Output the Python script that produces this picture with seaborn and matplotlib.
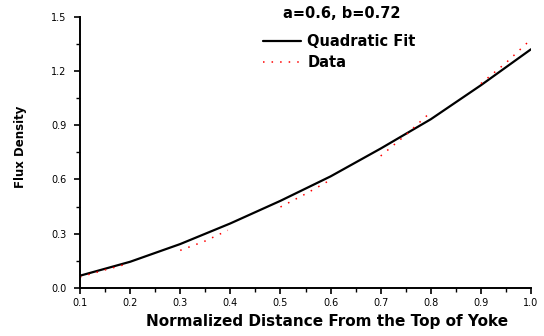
import numpy as np
import pandas as pd
import seaborn as sns
import matplotlib.pyplot as plt
from matplotlib.lines import Line2D
from matplotlib.ticker import MultipleLocator

# quadratic fit curve
fit_x = [0.1, 0.2, 0.3, 0.4, 0.5, 0.6, 0.7, 0.8, 0.9, 1.0]
fit_y = [0.068, 0.145, 0.243, 0.357, 0.482, 0.617, 0.771, 0.933, 1.121, 1.32]

# measured data, five separate segments
seg_id = [1, 1, 1, 2, 2, 2, 3, 3, 3, 4, 4, 4, 5, 5, 5]
data_x = [0.1, 0.15, 0.195, 0.3, 0.35, 0.395, 0.5, 0.55, 0.595,
          0.7, 0.75, 0.795, 0.9, 0.95, 0.995]
data_y = [0.061, 0.10, 0.134, 0.208, 0.26, 0.319, 0.448, 0.52, 0.59,
          0.73, 0.846, 0.96, 1.13, 1.245, 1.362]

fit = pd.DataFrame({"x": fit_x, "y": fit_y})
data = pd.DataFrame({"x": data_x, "y": data_y, "seg": seg_id})

sns.set_theme(style="ticks")
plt.rcParams["font.family"] = ["DejaVu Sans"]
plt.rcParams["text.color"] = "black"
plt.rcParams["axes.labelcolor"] = "black"

fig = plt.figure(figsize=(5.44, 3.36), dpi=100)
ax = fig.add_axes([80 / 544, 48 / 336, 451 / 544, 271.3 / 336])

dots = (0, (1, 4.6))
sns.lineplot(data=fit, x="x", y="y", color="black", lw=1.6, ax=ax)
sns.lineplot(data=data, x="x", y="y", units="seg", estimator=None,
             color="red", lw=1.1, linestyle=dots, ax=ax)

ax.set_xlim(0.1, 1.0)
ax.set_ylim(0.0, 1.5)
ax.xaxis.set_major_locator(MultipleLocator(0.1))
ax.xaxis.set_minor_locator(MultipleLocator(0.05))
ax.yaxis.set_major_locator(MultipleLocator(0.3))
ax.yaxis.set_minor_locator(MultipleLocator(0.15))
ax.tick_params(which="major", length=4.5, width=1.2, labelsize=7, colors="black")
ax.tick_params(which="minor", length=2.6, width=1.0, colors="black")
ax.tick_params(axis="x", which="major", pad=3)
ax.tick_params(axis="y", which="major", pad=5)
ax.xaxis.set_major_formatter(plt.FuncFormatter(lambda v, p: f"{v:.1f}"))
ax.yaxis.set_major_formatter(plt.FuncFormatter(lambda v, p: f"{v:.1f}"))
sns.despine(ax=ax)
for s in ["left", "bottom"]:
    ax.spines[s].set_linewidth(1.4)
    ax.spines[s].set_color("black")

ax.set_xlabel("Normalized Distance From the Top of Yoke",
              fontsize=11, fontweight="bold")
ax.set_ylabel("Flux Density", fontsize=8.5, fontweight="bold")
ax.xaxis.set_label_coords(0.547, -0.097)
ax.yaxis.set_label_coords(-0.118, 0.52)

handles = [Line2D([], [], color="black", lw=1.6),
           Line2D([], [], color="red", lw=1.1, linestyle=dots)]
leg = fig.legend(handles, ["Quadratic Fit", "Data"],
                 loc="upper left", bbox_to_anchor=(263 / 544, 1 - 34 / 336),
                 frameon=False, borderpad=0, borderaxespad=0,
                 handlelength=2.6, handletextpad=0.45, labelspacing=0.4,
                 prop={"weight": "bold", "size": 10.5})
fig.text(342 / 544, 1 - 13 / 336, "a=0.6, b=0.72", ha="center", va="center",
         fontsize=10.5, fontweight="bold")

fig.savefig("out.png", dpi=100)
